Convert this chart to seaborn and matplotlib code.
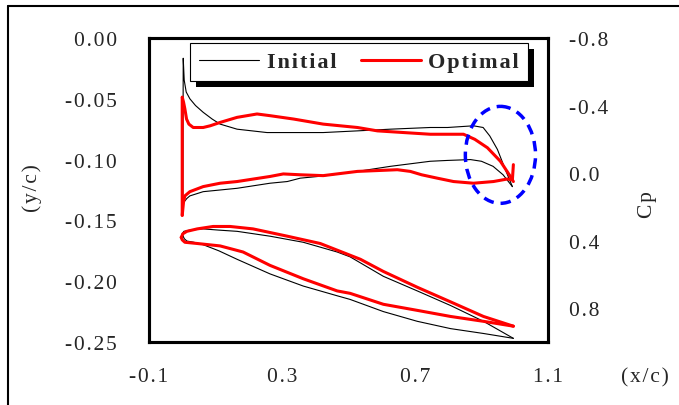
import matplotlib
matplotlib.use("Agg")
import matplotlib.pyplot as plt
import seaborn as sns
import numpy as np
import pandas as pd
from matplotlib.lines import Line2D
from matplotlib.patches import Ellipse, Rectangle

# --- data ---
# pressure coefficient, initial design (leading edge -> trailing edge)
cp_init_up_x = [0.002, 0.003, 0.006, 0.012, 0.023, 0.040, 0.063, 0.090, 0.114, 0.165,
                0.210, 0.255, 0.325, 0.424, 0.527, 0.626, 0.746, 0.798, 0.876, 0.905,
                0.925, 0.948, 0.972, 0.993]
cp_init_up = [0.18, -0.68, -0.55, -0.48, -0.44, -0.40, -0.36, -0.32, -0.29, -0.26,
              -0.25, -0.24, -0.24, -0.24, -0.25, -0.26, -0.27, -0.27, -0.28, -0.27,
              -0.22, -0.14, -0.02, 0.08]
cp_init_lo_x = [0.002, 0.014, 0.023, 0.063, 0.114, 0.165, 0.264, 0.316, 0.355, 0.424,
                0.527, 0.626, 0.746, 0.798, 0.867, 0.900, 0.935, 0.965, 0.993]
cp_init_lo = [0.18, 0.15, 0.135, 0.11, 0.10, 0.09, 0.06, 0.05, 0.03, 0.017,
              -0.01, -0.04, -0.07, -0.075, -0.08, -0.07, -0.04, 0.01, 0.08]

# pressure coefficient, optimal design
cp_opt_up_x = [0.0, 0.0, 0.004, 0.008, 0.013, 0.020, 0.033, 0.063, 0.084, 0.114,
               0.165, 0.225, 0.264, 0.335, 0.424, 0.527, 0.587, 0.746, 0.846, 0.880,
               0.918, 0.957, 0.987, 0.996]
cp_opt_up = [0.25, -0.45, -0.42, -0.38, -0.32, -0.29, -0.27, -0.27, -0.28, -0.30,
             -0.33, -0.35, -0.34, -0.32, -0.29, -0.27, -0.25, -0.23, -0.23, -0.20,
             -0.15, -0.07, 0.02, 0.05]
cp_opt_lo_x = [0.0, 0.004, 0.008, 0.023, 0.063, 0.114, 0.165, 0.264, 0.304, 0.355,
               0.424, 0.527, 0.647, 0.686, 0.720, 0.767, 0.816, 0.876, 0.936, 0.978,
               0.993, 0.996]
cp_opt_lo = [0.25, 0.17, 0.135, 0.11, 0.08, 0.06, 0.05, 0.02, 0.005, 0.01,
             0.015, -0.01, -0.02, -0.01, 0.01, 0.03, 0.05, 0.06, 0.05, 0.035,
             0.04, -0.05]

# airfoil shape y/c, initial
af_init_up_x = [0.0, 0.005, 0.023, 0.063, 0.110, 0.165, 0.264, 0.364, 0.466, 0.505,
                0.605, 0.707, 0.807, 0.906, 0.996]
af_init_up = [-0.161, -0.159, -0.158, -0.157, -0.158, -0.159, -0.163, -0.168, -0.176,
              -0.180, -0.196, -0.208, -0.220, -0.233, -0.247]
af_init_lo_x = [0.0, 0.006, 0.014, 0.035, 0.063, 0.110, 0.165, 0.264, 0.364, 0.466,
                0.505, 0.605, 0.707, 0.807, 0.906, 0.996]
af_init_lo = [-0.161, -0.165, -0.167, -0.168, -0.170, -0.175, -0.182, -0.194, -0.204,
              -0.212, -0.215, -0.225, -0.233, -0.239, -0.243, -0.247]

# airfoil shape y/c, optimal
af_opt_up_x = [-0.003, 0.002, 0.014, 0.045, 0.093, 0.144, 0.213, 0.316, 0.415, 0.536,
               0.605, 0.707, 0.807, 0.906, 0.996]
af_opt_up = [-0.164, -0.161, -0.159, -0.157, -0.155, -0.155, -0.157, -0.163, -0.169,
             -0.182, -0.192, -0.205, -0.217, -0.229, -0.237]
af_opt_lo_x = [-0.003, 0.000, 0.008, 0.045, 0.114, 0.183, 0.264, 0.364, 0.466, 0.505,
               0.605, 0.707, 0.807, 0.906, 0.996]
af_opt_lo = [-0.164, -0.166, -0.168, -0.169, -0.171, -0.176, -0.187, -0.198, -0.208,
             -0.210, -0.219, -0.224, -0.229, -0.233, -0.237]

x_ticks = [-0.1, 0.3, 0.7, 1.1]
yc_ticks = [0.0, -0.05, -0.10, -0.15, -0.20, -0.25]
cp_ticks = [-0.8, -0.4, 0.0, 0.4, 0.8]
labels = ["Initial", "Optimal"]

sns.set_style("white")
serif = ["Liberation Serif", "DejaVu Serif"]
plt.rcParams["font.family"] = serif

TS = "\u200a"  # hair space, gives the wide letter spacing of the original


def spaced(s):
    return TS.join(s)


fig = plt.figure(figsize=(6.79, 4.06), dpi=100)
ax = fig.add_axes([0.2194, 0.1552, 0.5876, 0.7488])
ax2 = ax.twinx()

black = dict(color="black", lw=0.8)
red = dict(color="red", lw=2.2)

# airfoils on the left axis
for xs, ys, st in [(af_init_up_x, af_init_up, black), (af_init_lo_x, af_init_lo, black),
                   (af_opt_up_x, af_opt_up, red), (af_opt_lo_x, af_opt_lo, red)]:
    d = pd.DataFrame({"x": xs, "y": ys})
    sns.lineplot(data=d, x="x", y="y", sort=False, estimator=None, ax=ax, **st)

# Cp on the right axis
for xs, ys, st in [(cp_init_up_x, cp_init_up, black), (cp_init_lo_x, cp_init_lo, black),
                   (cp_opt_up_x, cp_opt_up, red), (cp_opt_lo_x, cp_opt_lo, red)]:
    d = pd.DataFrame({"x": xs, "cp": ys})
    sns.lineplot(data=d, x="x", y="cp", sort=False, estimator=None, ax=ax2, **st)

ax.set_xlim(-0.1, 1.1)
ax.set_ylim(-0.25, 0.0)
ax2.set_ylim(1.0, -0.8)

FS = 15.5
ax.set_xticks(x_ticks)
ax.set_xticklabels([spaced(f"{v:.1f}") for v in x_ticks])
ax.set_yticks(yc_ticks)
ax.set_yticklabels([spaced(f"{v:.2f}") for v in yc_ticks])
ax2.set_yticks(cp_ticks)
ax2.set_yticklabels([spaced(f"{v:.1f}") for v in cp_ticks])

ax.tick_params(axis="y", length=0, pad=23, labelsize=FS)
ax.tick_params(axis="x", length=0, pad=18, labelsize=FS)
ax2.tick_params(axis="y", length=0, pad=15, labelsize=FS)
ax.set_xlabel("")
ax.set_ylabel("")
ax2.set_ylabel("")

for a in (ax, ax2):
    for sp in a.spines.values():
        sp.set_visible(True)
        sp.set_color("black")
        sp.set_linewidth(2.2)

# dashed blue ellipse round the trailing edge
ax2.add_patch(Ellipse((0.957, -0.108), 0.211, 0.574, fill=False, edgecolor="blue",
                      lw=2.5, linestyle=(0, (3, 2)), zorder=6))

# legend with a solid black shadow
handles = [Line2D([], [], **black), Line2D([], [], **red)]
leg = ax2.legend(handles, [spaced(l) for l in labels], ncol=2,
                 bbox_to_anchor=(0.103, 0.984), loc="upper left",
                 prop={"family": serif, "weight": "bold", "size": 16},
                 frameon=True, fancybox=False, framealpha=1, edgecolor="black",
                 handlelength=2.7, handletextpad=0.35, columnspacing=1.1,
                 borderaxespad=0, borderpad=0.4)
leg.get_frame().set_linewidth(0.8)
leg.set_zorder(8)

fig.canvas.draw()
bb = leg.get_window_extent().transformed(ax2.transAxes.inverted())
off_x = 6 / (0.5876 * 679)
off_y = 6 / (0.7488 * 406)
ax2.add_patch(Rectangle((bb.x0 + off_x, bb.y0 - off_y), bb.width, bb.height,
                        transform=ax2.transAxes, facecolor="black", edgecolor="none",
                        zorder=7, clip_on=False))

# axis titles
fig.text(0.047, 0.537, spaced("(y/c)"), rotation=90, ha="center", va="center", fontsize=FS)
fig.text(0.954, 0.495, spaced("Cp"), rotation=90, ha="center", va="center", fontsize=FS)
fig.text(0.950, 0.069, spaced("(x/c)"), ha="center", va="center", fontsize=FS)

# outer frame
fig.add_artist(Line2D([8 / 679, 1.0], [1 - 7 / 406, 1 - 7 / 406], color="black", lw=1.5,
                      transform=fig.transFigure))
fig.add_artist(Line2D([8 / 679, 8 / 679], [1 - 7 / 406, 0.0], color="black", lw=1.5,
                      transform=fig.transFigure))

fig.savefig("out.png", dpi=100)
